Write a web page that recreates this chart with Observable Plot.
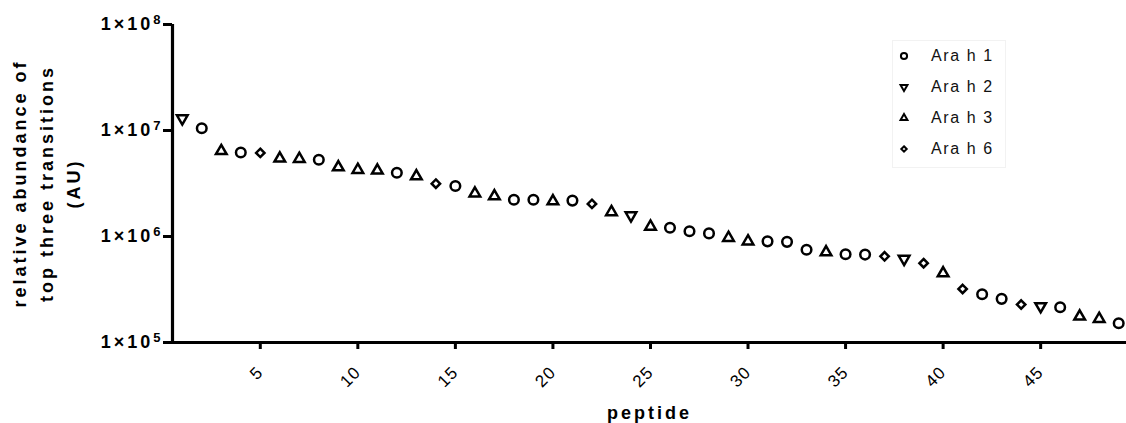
<!DOCTYPE html>
<html>
<head>
<meta charset="utf-8">
<script src="https://cdn.jsdelivr.net/npm/d3@7"></script>
<script src="https://cdn.jsdelivr.net/npm/@observablehq/plot@0.6"></script>
<style>
  body { margin: 0; background: #fff; font-family: "Liberation Sans", Arial, sans-serif; }
  #chart { position: relative; width: 1126px; height: 423px; }
  .legend { position: absolute; left: 892px; top: 40px; width: 114px; height: 128px;
            border: 1px solid #f2f2f2; box-sizing: border-box; }
  .legend .row { position: absolute; left: 0; height: 30px; display: flex; align-items: center; }
  .legend .row span { font-size: 16px; letter-spacing: 1.6px; color: #111; margin-left: 19px; }
  .legend .row svg { margin-left: 3px; }
</style>
</head>
<body>
<div id="chart"></div>
<script>
// Allergen protein of each peptide, ranked by abundance
const allergens = ["Ara h 1", "Ara h 2", "Ara h 3", "Ara h 6"];
const peptide = d3.range(1, 50);
const allergen = [
  "Ara h 2", "Ara h 1", "Ara h 3", "Ara h 1", "Ara h 6", "Ara h 3", "Ara h 3", "Ara h 1", "Ara h 3", "Ara h 3",
  "Ara h 3", "Ara h 1", "Ara h 3", "Ara h 6", "Ara h 1", "Ara h 3", "Ara h 3", "Ara h 1", "Ara h 1", "Ara h 3",
  "Ara h 1", "Ara h 6", "Ara h 3", "Ara h 2", "Ara h 3", "Ara h 1", "Ara h 1", "Ara h 1", "Ara h 3", "Ara h 3",
  "Ara h 1", "Ara h 1", "Ara h 1", "Ara h 3", "Ara h 1", "Ara h 1", "Ara h 6", "Ara h 2", "Ara h 6", "Ara h 3",
  "Ara h 6", "Ara h 1", "Ara h 1", "Ara h 6", "Ara h 2", "Ara h 1", "Ara h 3", "Ara h 3", "Ara h 1"
];
// Relative abundance of the top three transitions (AU)
const abundance = [
  1.30e7, 1.05e7, 6.4e6, 6.2e6, 6.15e6, 5.45e6, 5.4e6, 5.3e6, 4.5e6, 4.25e6,
  4.2e6, 4.0e6, 3.7e6, 3.15e6, 3.0e6, 2.55e6, 2.4e6, 2.22e6, 2.22e6, 2.15e6,
  2.18e6, 2.03e6, 1.7e6, 1.58e6, 1.24e6, 1.21e6, 1.12e6, 1.07e6, 9.7e5, 9.0e5,
  9.0e5, 8.9e5, 7.5e5, 7.1e5, 6.8e5, 6.75e5, 6.5e5, 6.15e5, 5.6e5, 4.5e5,
  3.2e5, 2.85e5, 2.58e5, 2.28e5, 2.2e5, 2.15e5, 1.76e5, 1.67e5, 1.52e5
];
const xTicks = [5, 10, 15, 20, 25, 30, 35, 40, 45];
const yTicks = [1e5, 1e6, 1e7, 1e8];
const xDomain = [0.5, 49.4];
const yDomain = [1e5, 1e8];

const rows = peptide.map((p, i) => ({peptide: p, allergen: allergen[i], abundance: abundance[i]}));

// Hollow symbol shapes; triangles and diamond drawn a little smaller than the circle
const sqrt3 = Math.sqrt(3);
const triUp = {
  draw(ctx, size) {
    const y = -Math.sqrt(size * 0.68 / (sqrt3 * 3));
    ctx.moveTo(0, y * 2); ctx.lineTo(-sqrt3 * y, -y); ctx.lineTo(sqrt3 * y, -y); ctx.closePath();
  }
};
const triDown = {
  draw(ctx, size) {
    const y = -Math.sqrt(size * 0.68 / (sqrt3 * 3));
    ctx.moveTo(0, -y * 2); ctx.lineTo(-sqrt3 * y, y); ctx.lineTo(sqrt3 * y, y); ctx.closePath();
  }
};
const diamond = {
  draw(ctx, size) {
    const r = Math.sqrt(size * 0.62) * 0.62625;
    ctx.moveTo(0, -r); ctx.lineTo(r, 0); ctx.lineTo(0, r); ctx.lineTo(-r, 0); ctx.closePath();
  }
};
const symbols = [d3.symbolCircle, triDown, triUp, diamond];

const chart = Plot.plot({
  width: 1126,
  height: 423,
  marginLeft: 172,
  marginRight: 0,
  marginTop: 24,
  marginBottom: 81,
  style: {fontFamily: "'Liberation Sans', Arial, sans-serif", background: "white", color: "black"},
  x: {domain: xDomain},
  y: {type: "log", domain: yDomain},
  symbol: {domain: allergens, range: symbols},
  marks: [
    Plot.axisY(yTicks, {
      tickSize: 9, tickPadding: 3, strokeWidth: 3, fontSize: 18, fontWeight: "bold",
      tickFormat: d => "1×10^" + Math.round(Math.log10(d)), label: null
    }),
    Plot.axisX(xTicks, {
      tickSize: 7, tickPadding: 20, strokeWidth: 3, fontSize: 17, tickRotate: -45, label: null
    }),
    Plot.ruleX([xDomain[0]], {strokeWidth: 3.2}),
    Plot.ruleY([yDomain[0]], {strokeWidth: 3.2}),
    Plot.dot(rows, {
      x: "peptide", y: "abundance", symbol: "allergen", r: 4.8,
      fill: "none", stroke: "black", strokeWidth: 2.5
    }),
    Plot.text(["peptide"], {
      frameAnchor: "bottom", dy: 76, fontSize: 18, fontWeight: "bold"
    }),
    Plot.text(["relative abundance of\ntop three transitions\n(AU)"], {
      frameAnchor: "left", textAnchor: "middle", dx: -128, rotate: -90,
      fontSize: 18, fontWeight: "bold", lineHeight: 1.5
    })
  ]
});

const svg = d3.select(chart);
// Powers of ten with a raised exponent
svg.selectAll('g[aria-label="y-axis tick label"] text').each(function () {
  const t = d3.select(this);
  const s = t.text();
  if (!s.includes("^")) return;
  const [base, exp] = s.split("^");
  t.text(base).style("letter-spacing", "3px");
  t.append("tspan").attr("dy", "-0.45em").attr("font-size", "13px").style("letter-spacing", "0").text(exp);
});
// Axis titles are set with wide tracking
svg.selectAll('g[aria-label="text"] text').style("letter-spacing", "3px");
svg.selectAll('g[aria-label="x-axis tick label"] text').style("letter-spacing", "1px");

const container = document.getElementById("chart");
container.appendChild(chart);

// Legend
const legend = d3.select(container).append("div").attr("class", "legend");
allergens.forEach((name, i) => {
  const row = legend.append("div").attr("class", "row").style("top", (i * 31) + "px");
  const s = row.append("svg").attr("width", 16).attr("height", 16);
  s.append("path")
    .attr("transform", "translate(8,8)")
    .attr("d", d3.symbol(symbols[i], 30)())
    .attr("fill", "none").attr("stroke", "black").attr("stroke-width", 2);
  row.append("span").text(name);
});
</script>
</body>
</html>
